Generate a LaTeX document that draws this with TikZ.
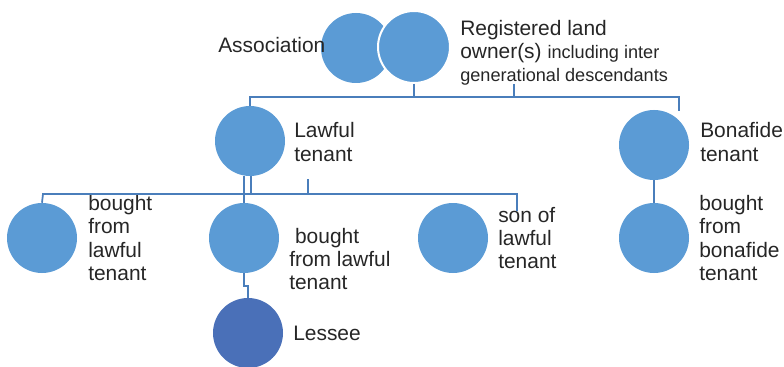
\documentclass[tikz,border=0pt]{standalone}
\usepackage{fontspec}
\setmainfont{Liberation Sans}
\usepackage{tikz}
\usetikzlibrary{calc,positioning}
\definecolor{disc}{HTML}{5B9BD5}
\definecolor{discdark}{HTML}{4A70B8}
\definecolor{wire}{HTML}{4A7EBB}
\definecolor{ink}{HTML}{262626}
\newcommand{\bigtxt}{\fontsize{15.7pt}{17.4pt}\selectfont}
\newcommand{\smalltxt}{\fontsize{13.6pt}{15pt}\selectfont}

\begin{document}
\begin{tikzpicture}[x=0.75pt,y=-0.75pt,
  disk/.style={circle,fill=disc,draw=none,inner sep=0pt,minimum size=52.5pt},
  txt/.style={anchor=west,align=left,inner sep=0pt,text=ink,font=\bigtxt},
  conn/.style={draw=wire,line width=1.3pt}]
\useasboundingbox (0,0) rectangle (784,367);
\pgfmathsetmacro{\Y}{238}
% top pair
\node[disk] (assoc) at (356,48) {};
\node[disk,draw=white,line width=1.5pt,minimum size=54pt] (owner) at (414,47) {};
\node[txt] (assoctxt) at (218,45) {Association};
\node[txt] (ownertxt) at (460,53) {Registered land\\owner(s) {\smalltxt including inter}\\{\smalltxt generational descendants}};
% tenants
\node[disk] (lawful) at (250,141) {};
\node[txt] (lawfultxt) at (294,142) {Lawful\\tenant};
\node[disk] (bonafide) at (654,145) {};
\node[txt] (bonafidetxt) at (700,142) {Bonafide\\tenant};
% second row
\node[disk] (boughtA) at (42,\Y) {};
\node[txt] (boughtAtxt) at (88,\Y) {bought\\from\\lawful\\tenant};
\node[disk] (boughtB) at (244,\Y) {};
\node[txt] (boughtBtxt) at (289,259) {\ bought\\from lawful\\tenant};
\node[disk] (son) at (453,\Y) {};
\node[txt] (sontxt) at (498,\Y) {son of\\lawful\\tenant};
\node[disk] (boughtD) at (654,\Y) {};
\node[txt] (boughtDtxt) at (699,\Y) {bought\\from\\bonafide\\tenant};
\node[disk,fill=discdark] (lessee) at (248,333) {};
\node[txt] (lesseetxt) at (293,333) {Lessee};
% bars
\coordinate (barA) at (250,97);
\coordinate (barB) at (679,97);
\coordinate (stubA) at (514,84);
\coordinate (bonaTop) at (679,111);
\coordinate (barC) at (43,194);
\coordinate (barD) at (517,194);
\coordinate (sonTop) at (517,211);
\coordinate (stubB) at (308,179);
% connectors
\draw[conn] (owner.south) -- (owner.south |- barA);
\draw[conn] (stubA) -- (stubA |- barA);
\draw[conn] (lawful.north) -- (barA) -- (barB) -- (bonaTop);
\draw[conn] (boughtA.north) -- (barC) -- (barD) -- (sonTop);
\draw[conn] (lawful.south -| boughtB.north) -- (boughtB.north);
\draw[conn] ([xshift=5.5pt]lawful.south -| boughtB.north) -- ([xshift=5.5pt]barC -| boughtB.north);
\draw[conn] (stubB) -- (stubB |- barC);
\draw[conn] (boughtB.south) -- ++(0,13) -| (lessee.north);
\draw[conn] (bonafide.south) -- (boughtD.north);
\end{tikzpicture}
\end{document}
